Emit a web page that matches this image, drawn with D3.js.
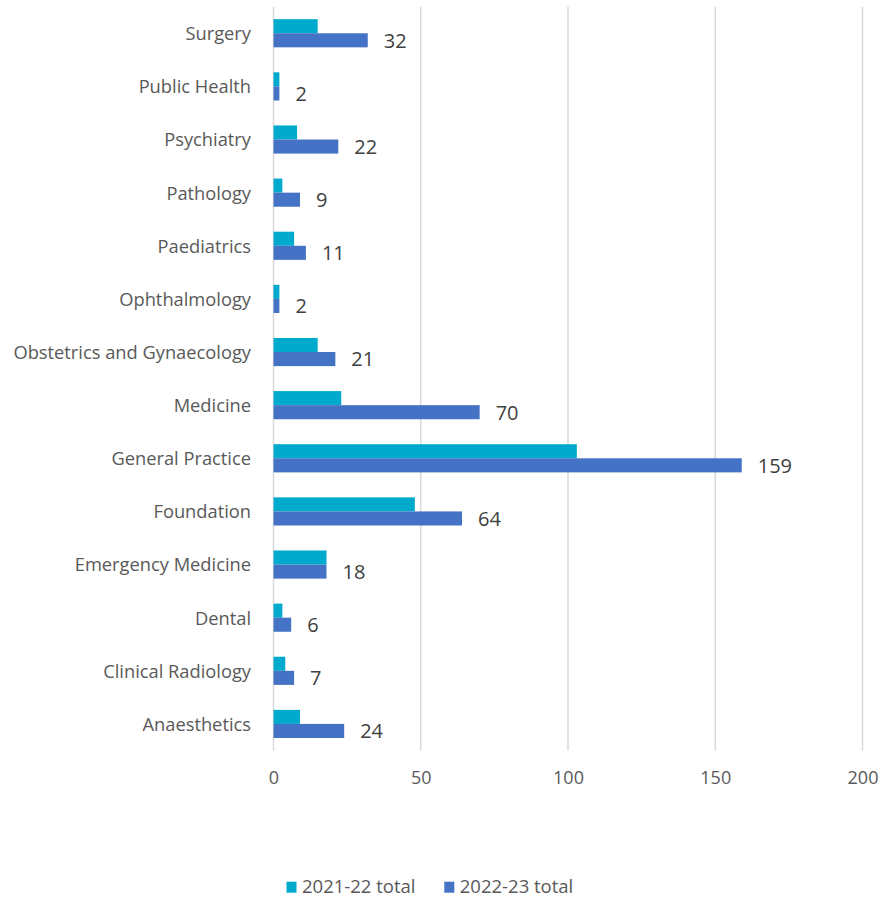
<!DOCTYPE html>
<html>
<head>
<meta charset="utf-8">
<script src="https://cdn.jsdelivr.net/npm/d3@7/dist/d3.min.js"></script>
<style>
  html, body { margin: 0; padding: 0; background: #ffffff; }
  svg { display: block; font-family: "Open Sans", sans-serif; }
</style>
</head>
<body>
<svg id="chart" width="882" height="898"></svg>
<script>
// Specialties, listed top to bottom
const categories = [
  "Surgery", "Public Health", "Psychiatry", "Pathology", "Paediatrics",
  "Ophthalmology", "Obstetrics and Gynaecology", "Medicine", "General Practice",
  "Foundation", "Emergency Medicine", "Dental", "Clinical Radiology", "Anaesthetics"
];
const seriesNames = ["2021-22 total", "2022-23 total"];
const total2122 = [15, 2, 8, 3, 7, 2, 15, 23, 103, 48, 18, 3, 4, 9];
const total2223 = [32, 2, 22, 9, 11, 2, 21, 70, 159, 64, 18, 6, 7, 24];
const xTicks = [0, 50, 100, 150, 200];
const colors = ["#00AACC", "#4472C4"];

const FONT = "'Open Sans', sans-serif";
const svg = d3.select("#chart");
const margin = { left: 273.5, right: 19.5, top: 6.7, bottom: 147.5 };
const W = 882, H = 898;

const x = d3.scaleLinear().domain([0, 200]).range([margin.left, W - margin.right]);
const y = d3.scaleBand().domain(categories).range([margin.top, H - margin.bottom]).paddingInner(0.47).paddingOuter(0.235);
const ySub = d3.scaleBand().domain(seriesNames).range([0, y.bandwidth()]);

// Vertical gridlines
svg.append("g")
  .selectAll("line")
  .data(xTicks)
  .join("line")
  .attr("x1", d => x(d)).attr("x2", d => x(d))
  .attr("y1", margin.top).attr("y2", H - margin.bottom)
  .attr("stroke", "#d9d9d9").attr("stroke-width", 1.5);

// X axis tick labels
const xAxis = d3.axisBottom(x).tickValues(xTicks).tickSize(0).tickPadding(0);
const gx = svg.append("g")
  .attr("transform", `translate(0,${H - margin.bottom + 29})`)
  .call(xAxis);
gx.select(".domain").remove();
gx.selectAll("text")
  .attr("dy", null)
  .attr("y", 0)
  .attr("dominant-baseline", "middle")
  .attr("font-family", FONT)
  .attr("font-size", 18).attr("fill", "#595959");

// Category labels
const yAxis = d3.axisLeft(y).tickSize(0).tickPadding(22.5);
const gy = svg.append("g")
  .attr("transform", `translate(${margin.left},0)`)
  .call(yAxis);
gy.select(".domain").remove();
gy.selectAll("text")
  .attr("dy", 2)
  .attr("dominant-baseline", "middle")
  .attr("font-family", FONT)
  .attr("font-size", 18.3).attr("fill", "#595959");

// Bars
const rows = categories.map((c, i) => ({ cat: c, vals: [total2122[i], total2223[i]] }));
const groups = svg.append("g").selectAll("g")
  .data(rows).join("g")
  .attr("transform", d => `translate(0,${y(d.cat)})`);

groups.selectAll("rect")
  .data(d => d.vals.map((v, k) => ({ v, k })))
  .join("rect")
  .attr("x", x(0))
  .attr("y", d => ySub(seriesNames[d.k]))
  .attr("width", d => x(d.v) - x(0))
  .attr("height", ySub.bandwidth())
  .attr("fill", d => colors[d.k]);

// Value labels on the 2022-23 bars
groups.append("text")
  .attr("x", d => x(d.vals[1]) + 16)
  .attr("y", ySub(seriesNames[1]) + ySub.bandwidth() / 2 + 2)
  .attr("dominant-baseline", "middle")
  .attr("font-family", FONT)
  .attr("font-size", 20)
  .attr("fill", "#404040")
  .text(d => d.vals[1]);

// Legend
const legend = svg.append("g").attr("transform", "translate(0,887)");
const legendX = [286.5, 444.3];
seriesNames.forEach((name, k) => {
  legend.append("rect")
    .attr("x", legendX[k]).attr("y", -5.3).attr("width", 10).attr("height", 11)
    .attr("fill", colors[k]);
  legend.append("text")
    .attr("x", legendX[k] + 15.5).attr("y", 1)
    .attr("dominant-baseline", "middle")
    .attr("font-family", FONT)
    .attr("font-size", 18.5).attr("fill", "#595959")
    .text(name);
});
</script>
</body>
</html>
